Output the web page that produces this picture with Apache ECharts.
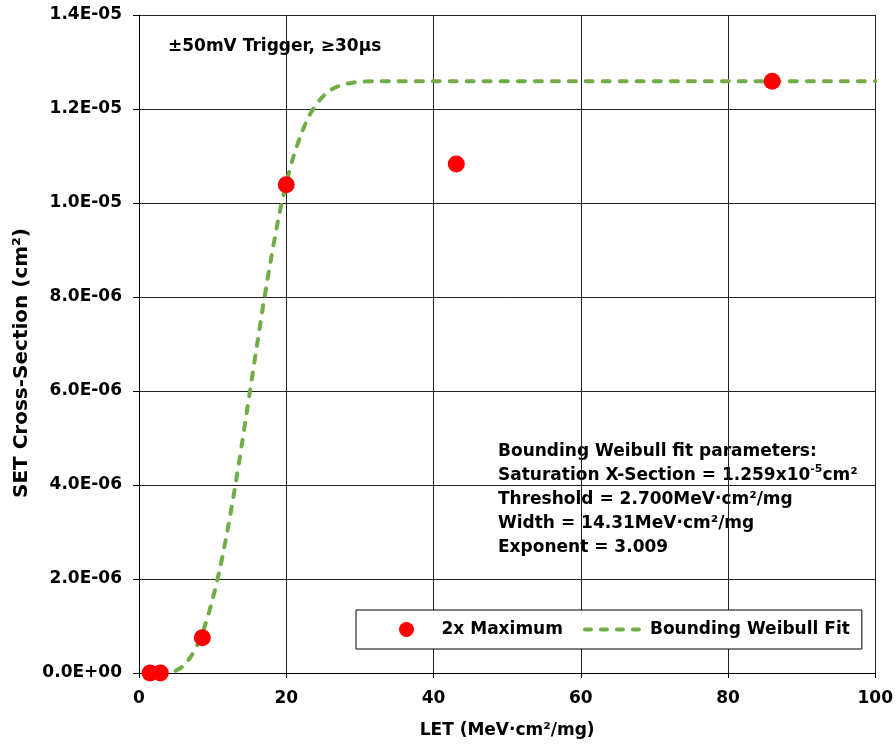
<!DOCTYPE html>
<html>
<head>
<meta charset="utf-8">
<script src="https://cdn.jsdelivr.net/npm/echarts@6/dist/echarts.min.js"></script>
<style>html,body{margin:0;padding:0;background:#fff}#c{width:896px;height:746px}</style>
</head>
<body>
<div id="c"></div>
<script>
// Measured points: LET vs SET cross-section
const measLET = [1.5, 2.9, 8.6, 20.0, 43.1, 86.0];
const measXS  = [0, 0, 7.5e-7, 1.039e-5, 1.083e-5, 1.259e-5];

// Bounding Weibull fit curve
const fitLET = [2.7, 4, 5, 6, 7, 8, 9, 10, 11, 12, 13, 14, 15, 16, 17, 18, 19, 20, 21, 22, 23, 24, 25, 26, 27, 28, 29, 30, 32, 35, 40, 60, 80, 100];
const fitXS  = [0, 0.01e-6, 0.05e-6, 0.15e-6, 0.34e-6, 0.62e-6, 1.03e-6, 1.57e-6, 2.23e-6, 3.02e-6, 3.91e-6, 4.90e-6, 5.92e-6, 6.95e-6, 7.95e-6, 8.87e-6, 9.72e-6, 10.42e-6, 11.0e-6, 11.45e-6, 11.82e-6, 12.08e-6, 12.27e-6, 12.40e-6, 12.48e-6, 12.53e-6, 12.56e-6, 12.58e-6, 12.59e-6, 12.59e-6, 12.59e-6, 12.59e-6, 12.59e-6, 12.59e-6];

const yTickLabels = ['0.0E+00','2.0E-06','4.0E-06','6.0E-06','8.0E-06','1.0E-05','1.2E-05','1.4E-05'];
const xTickLabels = ['0','20','40','60','80','100'];

const seriesNames = ['2x Maximum', 'Bounding Weibull Fit'];
const noteText = '±50mV Trigger, ≥30μs';
const paramLines = [
  'Bounding Weibull fit parameters:',
  'Saturation X-Section = 1.259x10{sup|-5}cm²',
  'Threshold = 2.700MeV·cm²/mg',
  'Width = 14.31MeV·cm²/mg',
  'Exponent = 3.009'
];

const FONT = 'DejaVu Sans';
const GREEN = '#70AD47';
const DASH = [7, 10];
const chart = echarts.init(document.getElementById('c'), null, {renderer: 'canvas'});

const option = {
  animation: false,
  backgroundColor: '#fff',
  textStyle: {fontFamily: FONT, fontWeight: 'bold', color: '#000'},
  grid: {left: 139, right: 18, top: 15, bottom: 73, containLabel: false},
  xAxis: {
    type: 'value', min: 0, max: 100, interval: 20,
    name: 'LET (MeV·cm²/mg)', nameLocation: 'middle', nameGap: 49,
    nameTextStyle: {fontFamily: FONT, fontWeight: 'bold', fontSize: 17, color: '#000'},
    axisLine: {show: true, onZero: false, lineStyle: {color: '#000', width: 1}},
    axisTick: {show: true, length: 5, lineStyle: {color: '#000'}},
    axisLabel: {fontFamily: FONT, fontWeight: 'bold', fontSize: 17, color: '#000', margin: 17,
      formatter: (v, i) => xTickLabels[i]},
    splitLine: {show: true, lineStyle: {color: '#222', width: 1}}
  },
  yAxis: {
    type: 'value', min: 0, max: 1.4e-5, interval: 2e-6,
    name: 'SET Cross-Section (cm²)', nameLocation: 'middle', nameGap: 106, nameRotate: 90,
    nameTextStyle: {fontFamily: FONT, fontWeight: 'bold', fontSize: 20, color: '#000', padding: [0, 38, 0, 0]},
    axisLine: {show: true, lineStyle: {color: '#000', width: 1}},
    axisTick: {show: true, length: 6, lineStyle: {color: '#000'}},
    axisLabel: {fontFamily: FONT, fontWeight: 'bold', fontSize: 17, color: '#000', margin: 17,
      formatter: (v, i) => yTickLabels[i]},
    splitLine: {show: true, lineStyle: {color: '#222', width: 1}}
  },
  legend: {
    left: 356, top: 610,
    orient: 'horizontal',
    padding: [11, 12, 11, 43],
    itemWidth: 60, itemHeight: 15, itemGap: 20,
    backgroundColor: '#fff',
    borderColor: '#000', borderWidth: 1, borderRadius: 0,
    textStyle: {fontFamily: FONT, fontWeight: 'bold', fontSize: 17, color: '#000'},
    data: [
      {name: seriesNames[0]},
      {name: seriesNames[1],
       itemStyle: {color: 'rgba(0,0,0,0)', borderWidth: 0, opacity: 0},
       lineStyle: {color: GREEN, width: 4, type: [6, 10], cap: 'round'}}
    ]
  },
  series: [
    {
      name: seriesNames[0], type: 'scatter', z: 4,
      symbol: 'circle', symbolSize: 17,
      itemStyle: {color: '#FF0000', opacity: 1},
      data: measLET.map((x, i) => [x, measXS[i]])
    },
    {
      name: seriesNames[1], type: 'line', z: 3,
      symbol: 'none', showSymbol: false, smooth: 0.3,
      itemStyle: {color: GREEN},
      lineStyle: {color: GREEN, width: 4, type: DASH, cap: 'round'},
      data: fitLET.map((x, i) => [x, fitXS[i]])
    }
  ],
  graphic: [
    {
      type: 'text', left: 168, top: 38,
      style: {text: noteText, fontFamily: FONT, fontWeight: 'bold', fontSize: 17, fill: '#000'}
    },
    {
      type: 'text', left: 498, top: 440,
      style: {
        text: paramLines.join('\n'),
        fontFamily: FONT, fontWeight: 'bold', fontSize: 17, lineHeight: 24, fill: '#000',
        rich: {
          sup: {fontFamily: FONT, fontWeight: 'bold', fontSize: 11, verticalAlign: 'top', lineHeight: 14, fill: '#000'}
        }
      }
    }
  ]
};
chart.setOption(option);
</script>
</body>
</html>
